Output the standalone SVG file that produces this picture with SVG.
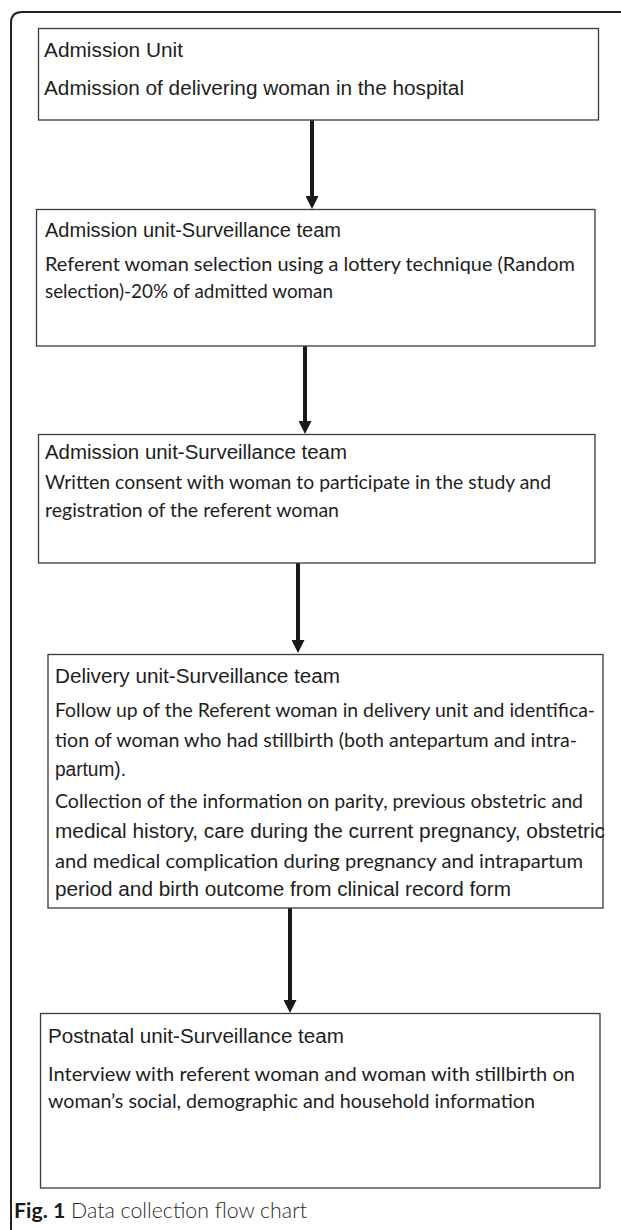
<svg xmlns="http://www.w3.org/2000/svg" width="621" height="1230" viewBox="0 0 621 1230">
<style>
.box{fill:#fff;stroke:#3a3a3a;stroke-width:1.3}
.h{font-family:"Liberation Sans",Arial,sans-serif;font-size:19.5px;fill:#1e1e1e}
.b{font-family:Lato,"Open Sans",sans-serif;font-size:19px;fill:#1e1e1e}
.cap{font-family:Lato,"Open Sans",sans-serif;font-size:21px;fill:#2a2a2a}
.conn{stroke:#1a1a1a;stroke-width:4;fill:none}
</style>
<defs>
<marker id="ah" markerUnits="userSpaceOnUse" markerWidth="13" markerHeight="13" viewBox="0 0 13 13" refX="2" refY="6.5" orient="auto">
<path d="M0,0 L13,6.5 L0,13 Z" fill="#1a1a1a"/>
</marker>
</defs>
<rect width="621" height="1230" fill="#fff"/>
<path id="frame" d="M11,1230 V23 Q11,12 22,12 H625" fill="none" stroke="#222" stroke-width="2"/>

<g id="connectors">
<line class="conn" x1="312" y1="120" x2="312" y2="198" marker-end="url(#ah)"/>
<line class="conn" x1="305" y1="346" x2="305" y2="423" marker-end="url(#ah)"/>
<line class="conn" x1="298" y1="563" x2="298" y2="642" marker-end="url(#ah)"/>
<line class="conn" x1="290" y1="908" x2="290" y2="1002" marker-end="url(#ah)"/>
</g>

<g id="node1">
<rect class="box" x="38.5" y="28.5" width="560" height="91.5"/>
<text class="h" x="44" y="57" textLength="139" lengthAdjust="spacingAndGlyphs">Admission Unit</text>
<text class="h" x="44" y="95" textLength="420" lengthAdjust="spacingAndGlyphs">Admission of delivering woman in the hospital</text>
</g>

<g id="node2">
<rect class="box" x="36.5" y="209.5" width="558.5" height="136.5"/>
<text class="h" x="45" y="237" textLength="296" lengthAdjust="spacingAndGlyphs">Admission unit-Surveillance team</text>
<text class="b" x="45" y="271" textLength="530" lengthAdjust="spacingAndGlyphs">Referent woman selection using a lottery technique (Random</text>
<text class="b" x="45" y="298" textLength="288" lengthAdjust="spacingAndGlyphs">selection)-20% of admitted woman</text>
</g>

<g id="node3">
<rect class="box" x="38.5" y="434.5" width="556.5" height="128.5"/>
<text class="h" x="45" y="459" textLength="302" lengthAdjust="spacingAndGlyphs">Admission unit-Surveillance team</text>
<text class="b" x="45" y="489" textLength="506" lengthAdjust="spacingAndGlyphs">Written consent with woman to participate in the study and</text>
<text class="b" x="45" y="517" textLength="294" lengthAdjust="spacingAndGlyphs">registration of the referent woman</text>
</g>

<g id="node4">
<rect class="box" x="48" y="654.5" width="555" height="253.5"/>
<text class="h" x="55" y="683" textLength="285" lengthAdjust="spacingAndGlyphs">Delivery unit-Surveillance team</text>
<text class="b" x="55" y="717" textLength="540" lengthAdjust="spacingAndGlyphs">Follow up of the Referent woman in delivery unit and identifica-</text>
<text class="b" x="55" y="747" textLength="522" lengthAdjust="spacingAndGlyphs">tion of woman who had stillbirth (both antepartum and intra-</text>
<text class="h" x="55" y="776" textLength="71" lengthAdjust="spacingAndGlyphs">partum).</text>
<text class="b" x="55" y="808" textLength="528" lengthAdjust="spacingAndGlyphs">Collection of the information on parity, previous obstetric and</text>
<text class="h" x="55" y="838" textLength="550" lengthAdjust="spacingAndGlyphs">medical history, care during the current pregnancy, obstetric</text>
<text class="b" x="55" y="868" textLength="528" lengthAdjust="spacingAndGlyphs">and medical complication during pregnancy and intrapartum</text>
<text class="h" x="55" y="896" textLength="456" lengthAdjust="spacingAndGlyphs">period and birth outcome from clinical record form</text>
</g>

<g id="node5">
<rect class="box" x="40.5" y="1013.5" width="559.5" height="174.5"/>
<text class="h" x="48" y="1043" textLength="296" lengthAdjust="spacingAndGlyphs">Postnatal unit-Surveillance team</text>
<text class="b" x="48" y="1081" textLength="527" lengthAdjust="spacingAndGlyphs">Interview with referent woman and woman with stillbirth on</text>
<text class="b" x="48" y="1108" textLength="487" lengthAdjust="spacingAndGlyphs">woman’s social, demographic and household information</text>
</g>

<g id="caption">
<text class="cap" x="14" y="1218" textLength="293" lengthAdjust="spacingAndGlyphs"><tspan font-weight="bold" fill="#1a1a1a">Fig. 1</tspan><tspan font-weight="300"> Data collection flow chart</tspan></text>
</g>
</svg>
